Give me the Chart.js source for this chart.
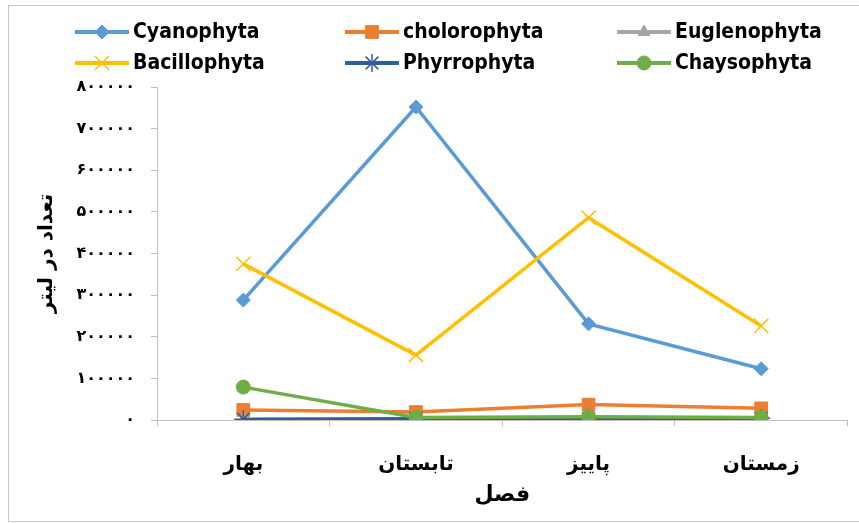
<!DOCTYPE html>
<html>
<head>
<meta charset="utf-8">
<script src="https://cdn.jsdelivr.net/npm/chart.js@4.4.0/dist/chart.umd.min.js"></script>
<style>
  body { margin: 0; background: #fff; }
  #wrap { position: relative; width: 859px; height: 523px; overflow: hidden; }
  #frame { position: absolute; left: 8px; top: 5px; width: 900px; height: 515px; border: 1px solid #c8c8c8; }
  canvas { position: absolute; left: 0; top: 0; }
</style>
</head>
<body>
<div id="wrap">
  <div id="frame"></div>
  <canvas id="seasonChart" width="859" height="523"></canvas>
</div>
<script>
// seasons (x axis)
var categories = ['بهار', 'تابستان', 'پاییز', 'زمستان'];

// counts per litre
var cyanophyta   = [288000, 752000, 231000, 123000];
var cholorophyta = [24000, 19000, 37000, 28000];
var euglenophyta = [500, 500, 500, 500];
var bacillophyta = [375000, 156000, 486000, 226000];
var phyrrophyta  = [2000, 3000, 4000, 4000];
var chaysophyta  = [79000, 6000, 8000, 6000];

var yTicks = [0, 100000, 200000, 300000, 400000, 500000, 600000, 700000, 800000];

var faDigits = '۰۱۲۳۴۵۶۷۸۹';
function toPersian(n) {
    return String(n).replace(/\d/g, function (d) { return faDigits[d]; });
}

function series(label, data, color, style, radius, i) {
    return {
        label: label,
        data: data,
        borderColor: color,
        backgroundColor: color,
        pointBackgroundColor: color,
        pointBorderColor: color,
        pointStyle: style,
        pointRadius: radius,
        pointBorderWidth: (style == 'crossRot' || style == 'star') ? 1.5 : 1,
        borderWidth: 3.5,
        tension: 0,
        fill: false,
        order: -i
    };
}

// excel-like legend: 3 columns, 2 rows
var gridLegend = {
    id: 'gridLegend',
    afterDraw: function (chart) {
        var ctx = chart.ctx;
        var cols = [75, 345, 617];
        var rows = [32, 63];
        chart.data.datasets.forEach(function (ds, i) {
            var x = cols[i % 3], y = rows[Math.floor(i / 3)];
            ctx.save();
            ctx.strokeStyle = ds.borderColor;
            ctx.lineWidth = 4;
            ctx.beginPath();
            ctx.moveTo(x, y);
            ctx.lineTo(x + 54, y);
            ctx.stroke();
            ctx.fillStyle = ds.pointBackgroundColor;
            ctx.lineWidth = ds.pointBorderWidth;
            Chart.helpers.drawPoint(ctx, {
                pointStyle: ds.pointStyle,
                radius: ds.pointRadius,
                borderWidth: ds.pointBorderWidth,
                rotation: 0
            }, x + 27, y);
            ctx.fillStyle = '#000';
            ctx.font = 'bold 21px "DejaVu Sans Condensed", "DejaVu Sans", sans-serif';
            ctx.textBaseline = 'middle';
            ctx.textAlign = 'left';
            ctx.fillText(ds.label, x + 58, y + 1);
            ctx.restore();
        });
    }
};

Chart.defaults.font.family = '"DejaVu Sans", sans-serif';
Chart.defaults.color = '#000';

var ctx = document.getElementById('seasonChart').getContext('2d');
var chart = new Chart(ctx, {
    type: 'line',
    data: {
        labels: categories,
        datasets: [
            series('Cyanophyta', cyanophyta, '#5B9BD5', 'rectRot', 7, 0),
            series('cholorophyta', cholorophyta, '#ED7D31', 'rect', 9, 1),
            series('Euglenophyta', euglenophyta, '#A5A5A5', 'triangle', 7, 2),
            series('Bacillophyta', bacillophyta, '#FFC000', 'crossRot', 10, 3),
            series('Phyrrophyta', phyrrophyta, '#2F5F98', 'star', 9, 4),
            series('Chaysophyta', chaysophyta, '#70AD47', 'circle', 7, 5)
        ]
    },
    options: {
        responsive: false,
        animation: false,
        devicePixelRatio: 1,
        layout: { padding: { top: 87, right: 8, bottom: 0, left: 0 } },
        plugins: {
            legend: { display: false },
            tooltip: { enabled: false }
        },
        scales: {
            x: {
                offset: true,
                grid: { offset: true, drawOnChartArea: false, drawTicks: true, tickLength: 6, color: '#bfbfbf' },
                border: { color: '#bfbfbf', width: 1 },
                ticks: { padding: 27, font: { size: 20, weight: 'bold' } },
                title: {
                    display: true,
                    text: 'فصل',
                    font: { size: 22, weight: 'bold' },
                    padding: { top: 0, bottom: 15 }
                },
                afterFit: function (s) { s.height = 103; }
            },
            y: {
                min: 0,
                max: 800000,
                grid: { drawOnChartArea: false, drawTicks: true, tickLength: 6, color: '#bfbfbf' },
                border: { color: '#bfbfbf', width: 1 },
                afterBuildTicks: function (s) {
                    s.ticks = yTicks.map(function (v) { return { value: v }; });
                },
                ticks: {
                    padding: 16,
                    font: { size: 16, weight: 'bold' },
                    callback: function (v) { return toPersian(v); }
                },
                title: {
                    display: true,
                    text: 'تعداد در لیتر',
                    font: { size: 20, weight: 'bold' },
                    padding: { top: 35, bottom: 0 }
                },
                afterFit: function (s) { s.width = 157; }
            }
        }
    },
    plugins: [gridLegend]
});
</script>
</body>
</html>
